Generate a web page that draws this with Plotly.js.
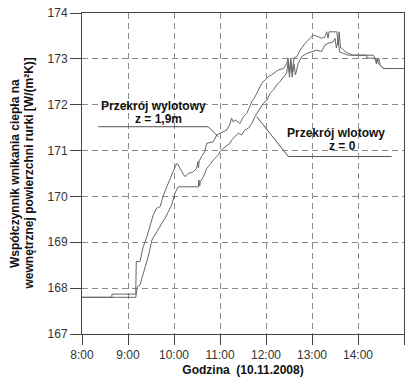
<!DOCTYPE html>
<html><head><meta charset="utf-8">
<script src="https://cdn.plot.ly/plotly-3.0.1.min.js"></script>
<style>html,body{margin:0;padding:0;background:#fff}#chart{width:419px;height:381px}</style>
</head><body><div id="chart"></div>
<script>
// Przekrój wylotowy (z = 1,9m) – hours and values
const outletHours = [8.00,8.65,8.65,9.17,9.17,9.18,9.26,9.33,9.41,9.48,9.55,9.62,9.70,9.77,9.84,9.91,9.98,10.06,10.09,10.17,10.24,10.31,10.42,10.49,10.52,10.53,10.55,10.60,10.67,10.71,10.85,10.93,11.00,11.07,11.15,11.22,11.25,11.29,11.33,11.40,11.43,11.51,11.58,11.65,11.69,11.76,11.83,11.91,11.98,12.05,12.12,12.20,12.27,12.38,12.45,12.48,12.51,12.54,12.57,12.61,12.67,12.74,12.85,12.96,13.03,13.14,13.21,13.28,13.32,13.35,13.37,13.54,13.57,13.59,13.62,13.65,13.72,13.79,13.90,14.33,14.39,14.42,14.45,14.48,14.55,15.00];
const outletValues = [167.80,167.80,167.87,167.87,168.03,168.58,168.58,168.90,169.12,169.38,169.60,169.74,169.78,170.03,170.21,170.40,170.54,170.72,170.69,170.54,170.43,170.50,170.54,170.61,170.76,170.62,170.78,170.87,170.98,171.16,171.19,171.34,171.38,171.41,171.45,171.59,171.71,171.62,171.67,171.62,171.59,171.74,171.81,171.96,172.07,172.17,172.32,172.47,172.54,172.61,172.65,172.72,172.76,172.79,172.90,173.02,172.71,173.02,172.71,173.02,173.05,173.19,173.34,173.45,173.52,173.48,173.45,173.48,173.59,173.45,173.59,173.59,173.30,173.59,173.24,173.23,173.16,173.12,173.08,173.08,172.98,172.94,173.02,172.87,172.79,172.79];

// Przekrój wlotowy (z = 0)
const inletHours = [8.00,9.17,9.20,9.26,9.30,9.37,9.44,9.52,9.59,9.66,9.73,9.80,9.88,9.95,10.02,10.09,10.53,10.54,10.56,10.57,10.64,10.71,10.78,10.85,10.96,11.00,11.11,11.22,11.25,11.33,11.40,11.47,11.54,11.62,11.69,11.76,11.83,11.91,11.94,12.02,12.09,12.16,12.23,12.30,12.38,12.45,12.48,12.51,12.54,12.57,12.61,12.64,12.70,12.78,12.89,13.00,13.10,13.21,13.24,13.28,13.35,13.46,13.50,13.53,13.57,13.60,13.68,13.79,14.19,14.19,14.37,14.40,14.42,14.44,14.51,14.57,15.00];
const inletValues = [167.80,167.80,168.03,168.07,168.21,168.43,168.69,169.05,169.16,169.27,169.41,169.52,169.67,169.81,170.07,170.21,170.21,170.36,170.23,170.32,170.43,170.61,170.69,170.79,170.90,170.98,171.08,171.16,171.23,171.30,171.38,171.34,171.45,171.49,171.59,171.74,171.85,171.96,172.03,172.10,172.25,172.32,172.43,172.50,172.61,172.69,172.93,172.60,172.93,172.60,172.89,172.65,172.90,173.05,173.12,173.16,173.19,173.16,173.23,173.30,173.34,173.37,173.45,173.24,173.41,173.15,173.12,173.08,173.08,173.02,173.01,172.89,173.00,172.90,172.83,172.79,172.79];

const xTickVals = [8,9,10,11,12,13,14,15];
const xTickText = ['8:00','9:00','10:00','11:00','12:00','13:00','14:00','15:00'];
const yTickVals = [167,168,169,170,171,172,173,174];

const lineColor = '#666666';
const traces = [
  {x: outletHours, y: outletValues, type: 'scatter', mode: 'lines', line: {color: lineColor, width: 1}, showlegend: false, hoverinfo: 'skip'},
  {x: inletHours, y: inletValues, type: 'scatter', mode: 'lines', line: {color: lineColor, width: 1}, showlegend: false, hoverinfo: 'skip'}
];

const W = 419, H = 381, L = 82, R = 15, T = 13, B = 47;
const pw = W - L - R, ph = H - T - B;
const px = v => (v - L) / pw;
const py = v => (H - B - v) / ph;

const bold = {family: 'Liberation Sans, Arial, sans-serif', size: 12, color: '#111'};
const ann = (text, x, y, extra) => Object.assign({text, xref: 'paper', yref: 'paper', x: px(x), y: py(y), xanchor: 'center', yanchor: 'middle', showarrow: false, font: bold}, extra || {});

const layout = {
  width: W, height: H,
  margin: {l: L, r: R, t: T, b: B},
  paper_bgcolor: '#fff', plot_bgcolor: '#fff',
  font: {family: 'Liberation Sans, Arial, sans-serif', size: 12, color: '#333'},
  xaxis: {
    range: [8, 15], tickvals: xTickVals, ticktext: xTickText,
    showline: true, mirror: true, linecolor: '#444', linewidth: 1,
    ticks: 'outside', ticklen: 10, tickcolor: '#444', tickwidth: 1,
    showgrid: true, gridcolor: '#8a8a8a', gridwidth: 1, griddash: '6px,4px',
    zeroline: false, tickfont: {size: 12, color: '#333'},
    title: {text: 'Godzina\u00a0 (10.11.2008)', font: {size: 12, color: '#111', family: 'Liberation Sans, Arial, sans-serif', weight: 'bold'}, standoff: 4}
  },
  yaxis: {
    range: [167, 174], tickvals: yTickVals,
    showline: true, mirror: true, linecolor: '#444', linewidth: 1,
    ticks: 'outside', ticklen: 11, tickcolor: '#444', tickwidth: 1,
    showgrid: true, gridcolor: '#8a8a8a', gridwidth: 1, griddash: '6px,4px',
    zeroline: false, tickfont: {size: 12, color: '#333'}
  },
  annotations: [
    ann('<b>Współczynnik wnikania ciepła na</b>', 15, 174, {textangle: -90}),
    ann('<b>wewnętrznej powierzchni rurki [W/(m²K)]</b>', 28.5, 174, {textangle: -90}),
    ann('<b>Przekrój wylotowy</b>', 153.5, 106),
    ann('<b>z = 1,9m</b>', 158.5, 118.5),
    ann('<b>Przekrój wlotowy</b>', 336, 133),
    ann('<b>z = 0</b>', 342.5, 145.5)
  ],
  shapes: [
    {type: 'path', xref: 'x', yref: 'y', path: 'M 8.354 171.52 L 10.746 171.52 L 10.963 171.30', line: {color: '#555', width: 1}},
    {type: 'path', xref: 'x', yref: 'y', path: 'M 11.798 171.74 L 12.485 170.87 L 14.733 170.87', line: {color: '#555', width: 1}}
  ]
};

Plotly.newPlot('chart', traces, layout, {staticPlot: true, displayModeBar: false});
</script></body></html>
